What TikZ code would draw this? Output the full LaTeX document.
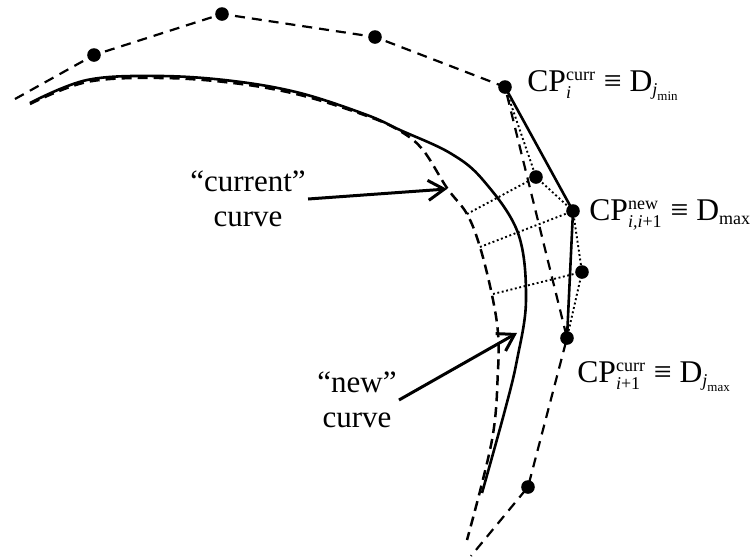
\documentclass[tikz,border=0pt]{standalone}
\usepackage{amsmath}
\usepackage{fontspec}
\setmainfont{Liberation Serif}
\usepackage{tikz}
\usetikzlibrary{arrows.meta, positioning}
\newcommand{\idx}[1]{\hbox{\fontsize{9}{10}\selectfont #1}}
\newcommand{\idxx}[1]{\hbox{\fontsize{6.5}{7}\selectfont #1}}

\begin{document}
\begin{tikzpicture}[
    x=0.5pt, y=-0.5pt,
    dot/.style={circle, fill=black, inner sep=0pt, minimum size=6.8pt},
    poly/.style={line width=1.1pt, dash pattern=on 5pt off 3.5pt},
    curcurve/.style={line width=1.25pt, dash pattern=on 5pt off 3pt},
    newcurve/.style={line width=1.3pt},
    proj/.style={line width=0.95pt, dash pattern=on 0.95pt off 1.3pt},
    cplabel/.style={font=\fontsize{15.8}{19}\selectfont, inner sep=0pt, anchor=base west},
    curvelabel/.style={font=\fontsize{15.5}{17.5}\selectfont, align=center, inner sep=1pt},
    arrow/.style={-{Straight Barb[length=8pt, width=10pt]}, line width=1.5pt}
]
\useasboundingbox (0,0) rectangle (752,558);

\node[dot] (cpa) at (94,55) {};
\node[dot] (cpb) at (222,14) {};
\node[dot] (cpc) at (375,37) {};
\node[dot] (cpi) at (505,87) {};
\node[dot] (da) at (536,177) {};
\node[dot] (cpnew) at (573,211) {};
\node[dot] (db) at (582,272) {};
\node[dot] (cpnext) at (567,338) {};
\node[dot] (cpd) at (528,487) {};
\coordinate (polystart) at (15,99);
\coordinate (polyend) at (471,556);

\draw[poly] (polystart) -- (cpa.center) -- (cpb.center) -- (cpc.center) -- (cpi.center)
    -- (cpnext.center) -- (cpd.center) -- (polyend);
\draw[newcurve] (cpi.center) -- (cpnew.center) -- (cpnext.center);
\draw[proj] (cpi.center) -- (da.center) -- (cpnew.center) -- (db.center) -- (cpnext.center);

\draw[curcurve] plot[smooth, tension=0.6] coordinates {(30,104) (87,82) (160,78) (233,83)
    (300,95) (367,116) (400,131) (423,150) (447,188) (467,214) (480,247) (492,295)
    (498,333) (498,370) (492,440) (467,540)};
\draw[newcurve] plot[smooth, tension=0.6] coordinates {(30,103) (87,80) (160,76) (233,81)
    (300,93) (367,115) (400,130) (450,153) (483,180) (518,233) (526,300) (517,360)
    (505,410) (482,493)};

\coordinate (fa) at (467,214);
\coordinate (fb) at (480,247);
\coordinate (fc) at (493,294);
\draw[proj] (fa) -- (da.center);
\draw[proj] (fb) -- (cpnew.center);
\draw[proj] (fc) -- (db.center);

\node[cplabel] (lcpi) at (527,91)
    {CP$^{\idx{curr}}_{\idx{\itshape i}}$ ≡ D$_{\idx{\itshape j}_{\idxx{min}}}$};
\node[cplabel] (lcpnew) at (589,220)
    {CP$^{\idx{new}}_{\idx{\itshape i,i\/\upshape+1}}$ ≡ D$_{\idx{max}}$};
\node[cplabel] (lcpnext) at (577,382)
    {CP$^{\idx{curr}}_{\idx{\itshape i\/\upshape+1}}$ ≡ D$_{\idx{\itshape j}_{\idxx{max}}}$};

\node[curvelabel] (lcur) at (248,199) {``current''\\curve};
\node[curvelabel] (lnew) at (357,400) {``new''\\curve};
\coordinate (curtip) at (447,189);
\coordinate (newtip) at (517,333);

\draw[arrow] (lcur.east) -- (curtip);
\draw[arrow] (lnew.east) -- (newtip);
\end{tikzpicture}
\end{document}
